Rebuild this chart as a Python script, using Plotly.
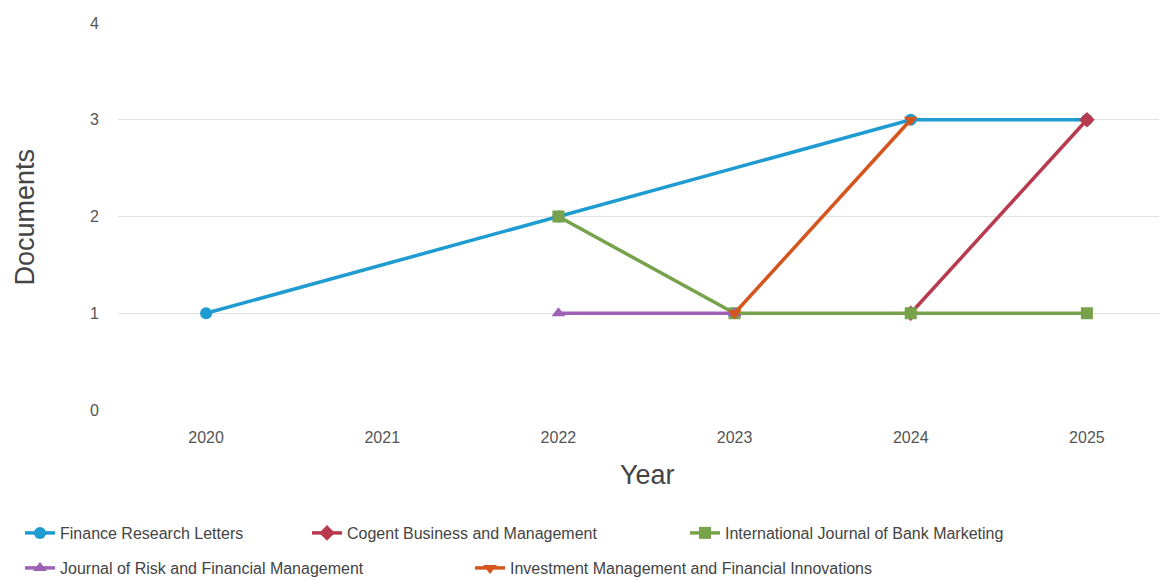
import plotly.graph_objects as go

years = [2020, 2021, 2022, 2023, 2024, 2025]
year_labels = [str(y) for y in years]

series_names = [
    "Finance Research Letters",
    "Cogent Business and Management",
    "International Journal of Bank Marketing",
    "Journal of Risk and Financial Management",
    "Investment Management and Financial Innovations",
]
finance_research_letters = [1, None, 2, None, 3, 3]
cogent_business = [None, None, None, None, 1, 3]
intl_journal_bank_marketing = [None, None, 2, 1, 1, 1]
journal_risk_financial = [None, None, 1, 1, None, None]
investment_management = [None, None, None, 1, 3, None]

series_values = [
    finance_research_letters,
    cogent_business,
    intl_journal_bank_marketing,
    journal_risk_financial,
    investment_management,
]
colors = ["#1E9BD0", "#B93A4E", "#77A24B", "#9D62B6", "#D4561C"]
symbols = ["circle", "diamond", "square", "triangle-up", "triangle-down"]
legend_ids = ["legend", "legend2", "legend3", "legend4", "legend5"]
# legend positions in pixels (x of left, y of center)
legend_px = [(12, 525), (299, 525), (677, 525), (12, 560), (462, 560)]

W, H = 1167, 580
FONT = "Liberation Sans, Arial, sans-serif"
fig = go.Figure()
xs = list(range(len(years)))
for name, vals, c, s, lg in zip(series_names, series_values, colors, symbols, legend_ids):
    px = [x for x, v in zip(xs, vals) if v is not None]
    py = [v for v in vals if v is not None]
    fig.add_trace(go.Scatter(
        x=px, y=py, name=name, mode="lines+markers",
        line=dict(color=c, width=3.5),
        marker=dict(color=c, symbol=s, size=12),
        legend=lg, showlegend=True,
    ))

layout_legends = {}
for lg, (lx, ly) in zip(legend_ids, legend_px):
    layout_legends[lg] = dict(
        xref="container", yref="container",
        x=lx / W, y=1 - ly / H, xanchor="left", yanchor="middle",
        font=dict(family=FONT, size=16, color="#444"),
        bgcolor="rgba(0,0,0,0)", itemwidth=30,
    )

fig.update_layout(
    width=W, height=H,
    margin=dict(l=110, r=0, t=15, b=178, autoexpand=False),
    plot_bgcolor="white", paper_bgcolor="white",
    font=dict(family=FONT, color="#555"),
    xaxis=dict(
        tickmode="array", tickvals=xs, ticktext=year_labels,
        range=[-0.5, 5.5], showgrid=False, zeroline=False,
        ticks="outside", ticklen=13, tickcolor="rgba(0,0,0,0)",
        tickfont=dict(family=FONT, size=16, color="#555"),
    ),
    yaxis=dict(
        range=[0, 4], tickvals=[0, 1, 2, 3, 4], showgrid=True,
        gridcolor="#e2e2e2", gridwidth=1, zeroline=False,
        ticks="outside", ticklen=15, tickcolor="rgba(0,0,0,0)",
        tickfont=dict(family=FONT, size=16, color="#555"),
    ),
    annotations=[
        dict(text="Year", xref="paper", yref="paper", x=0.5014, y=-0.168,
             xanchor="center", yanchor="middle", showarrow=False,
             font=dict(family=FONT, size=27, color="#444")),
        dict(text="Documents", xref="paper", yref="paper", x=-0.088, y=0.5,
             xanchor="center", yanchor="middle", textangle=-90, showarrow=False,
             font=dict(family=FONT, size=27, color="#444")),
    ],
    **layout_legends,
)

fig.write_html("out.html")
